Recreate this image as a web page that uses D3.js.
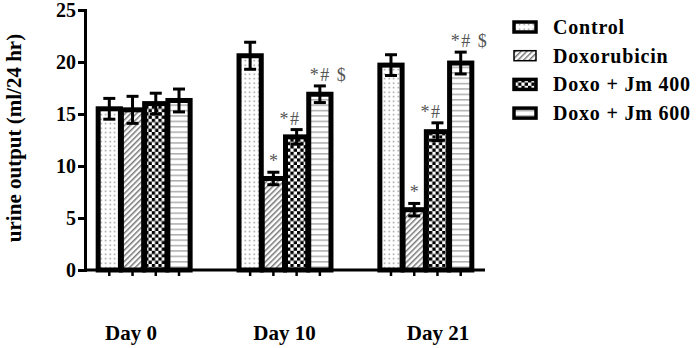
<!DOCTYPE html>
<html><head><meta charset="utf-8">
<script src="https://cdn.jsdelivr.net/npm/d3@7"></script>
<style>body{margin:0;background:#fff}svg{display:block}</style>
</head><body><svg id="c" width="699" height="348"></svg>
<script>
const groups = ["Day 0", "Day 10", "Day 21"];
const series = ["Control", "Doxorubicin", "Doxo + Jm 400", "Doxo + Jm 600"];
const control = [15.5, 20.6, 19.7];
const doxorubicin = [15.4, 8.8, 5.8];
const jm400 = [16.0, 12.8, 13.3];
const jm600 = [16.3, 16.9, 19.9];
const controlErr = [1.0, 1.3, 1.0];
const doxorubicinErr = [1.3, 0.6, 0.6];
const jm400Err = [1.0, 0.7, 0.85];
const jm600Err = [1.1, 0.8, 1.05];
const doxorubicinMarks = ["", "*", "*"];
const jm400Marks = ["", "*#", "*#"];
const jm600Marks = ["", "*# $", "*# $"];
const yTicks = [0, 5, 10, 15, 20, 25];

const values = [control, doxorubicin, jm400, jm600];
const errs = [controlErr, doxorubicinErr, jm400Err, jm600Err];
const marks = [[], doxorubicinMarks, jm400Marks, jm600Marks];
const data = [];
groups.forEach((g, gi) => series.forEach((s, si) => data.push({
  g, s, si, v: values[si][gi], e: errs[si][gi], m: (marks[si][gi] || "")
})));

const svg = d3.select("#c");
const serif = "'Liberation Serif','Times New Roman',serif";
const defs = svg.append("defs");
// patterns
const p0 = defs.append("pattern").attr("id", "pat0").attr("patternUnits", "userSpaceOnUse").attr("width", 4.5).attr("height", 4.5);
p0.append("rect").attr("width", 4.5).attr("height", 4.5).attr("fill", "#fff");
p0.append("rect").attr("x", 1.5).attr("y", 1.5).attr("width", 1.4).attr("height", 1.4).attr("fill", "#888");
const p1 = defs.append("pattern").attr("id", "pat1").attr("patternUnits", "userSpaceOnUse").attr("width", 4).attr("height", 4).attr("patternTransform", "rotate(45)");
p1.append("rect").attr("width", 4).attr("height", 4).attr("fill", "#fff");
p1.append("rect").attr("x", 0).attr("y", 0).attr("width", 1.5).attr("height", 4).attr("fill", "#777");
const p2 = defs.append("pattern").attr("id", "pat2").attr("patternUnits", "userSpaceOnUse").attr("width", 6.6).attr("height", 6.6);
p2.append("rect").attr("width", 6.6).attr("height", 6.6).attr("fill", "#fff");
p2.append("rect").attr("width", 3.3).attr("height", 3.3).attr("fill", "#000");
p2.append("rect").attr("x", 3.3).attr("y", 3.3).attr("width", 3.3).attr("height", 3.3).attr("fill", "#000");
const p3 = defs.append("pattern").attr("id", "pat3").attr("patternUnits", "userSpaceOnUse").attr("width", 6).attr("height", 5.4);
p3.append("rect").attr("width", 6).attr("height", 5.4).attr("fill", "#fff");
p3.append("rect").attr("y", 2).attr("width", 6).attr("height", 1.2).attr("fill", "#999");

const y = d3.scaleLinear().domain([0, 25]).range([270, 10]);
const x0 = d3.scaleBand().domain(groups).range([85, 485]).paddingInner(0.34).paddingOuter(0.09);
const x1 = d3.scaleBand().domain(series).range([0, x0.bandwidth()]);
const xLabel = d3.scalePoint().domain(groups).range([131, 438]);
const bw = x1.bandwidth();
const sw = 5;

// bars
const bars = svg.append("g");
bars.selectAll("rect").data(data).join("rect")
  .attr("x", d => x0(d.g) + x1(d.s) + 0.5)
  .attr("width", bw - 1)
  .attr("y", d => y(d.v))
  .attr("height", d => y(0) - y(d.v))
  .attr("fill", d => `url(#pat${d.si})`)
  .attr("stroke", "#000").attr("stroke-width", sw);

// error bars
const eb = svg.append("g").attr("stroke", "#000").attr("stroke-width", 3);
data.forEach(d => {
  const cx = x0(d.g) + x1(d.s) + bw / 2;
  eb.append("line").attr("x1", cx).attr("x2", cx).attr("y1", y(d.v + d.e)).attr("y2", y(d.v - d.e));
  eb.append("line").attr("x1", cx - 6).attr("x2", cx + 6).attr("y1", y(d.v + d.e)).attr("y2", y(d.v + d.e));
  eb.append("line").attr("x1", cx - 6).attr("x2", cx + 6).attr("y1", y(d.v - d.e)).attr("y2", y(d.v - d.e));
});

// annotations
svg.append("g").selectAll("text").data(data.filter(d => d.m)).join("text")
  .attr("x", d => {
    const cx = x0(d.g) + x1(d.s) + bw / 2;
    return d.m === "*" ? cx : d.m === "*#" ? cx + 4 : cx - 10;
  })
  .attr("text-anchor", d => d.m === "*" ? "middle" : d.m === "*#" ? "end" : "start")
  .attr("y", d => y(d.v + d.e) - 5)
  .attr("font-family", serif).attr("font-size", 18).attr("fill", "#555")
  .attr("letter-spacing", d => d.m === "*" ? 0 : 1.5)
  .text(d => d.m);

// y axis
const ya = svg.append("g").attr("transform", "translate(85,0)")
  .call(d3.axisLeft(y).tickValues(yTicks).tickSize(7).tickPadding(2));
ya.select(".domain").attr("stroke-width", 3);
ya.selectAll(".tick line").attr("stroke-width", 3);
ya.selectAll("text").attr("font-family", serif).attr("font-weight", "bold").attr("font-size", 20).attr("fill", "#000");

// x axis
const xa = svg.append("g").attr("transform", "translate(0,270)");
xa.append("line").attr("x1", 85).attr("x2", 485).attr("stroke", "#000").attr("stroke-width", 3);
data.forEach(d => {
  const cx = x0(d.g) + x1(d.s) + bw / 2;
  xa.append("line").attr("x1", cx).attr("x2", cx).attr("y1", 0).attr("y2", 6).attr("stroke", "#000").attr("stroke-width", 2.5);
});
xa.selectAll("text.g").data(groups).join("text").attr("class", "g")
  .attr("x", g => xLabel(g)).attr("y", 70)
  .attr("text-anchor", "middle")
  .attr("font-family", serif).attr("font-weight", "bold").attr("font-size", 21)
  .text(g => g);

// y label
svg.append("text").attr("transform", "translate(21,138) rotate(-90)")
  .attr("text-anchor", "middle")
  .attr("font-family", serif).attr("font-weight", "bold").attr("font-size", 21)
  .text("urine output (ml/24 hr)");

// legend
const lg = svg.append("g");
series.forEach((s, i) => {
  const yy = 27 + i * 28.7;
  lg.append("rect").attr("x", 514).attr("y", yy - 5).attr("width", 22).attr("height", 10)
    .attr("fill", `url(#pat${i})`).attr("stroke", "#000").attr("stroke-width", i === 1 ? 1.5 : 3.5);
  lg.append("text").attr("x", 553).attr("y", yy + 7)
    .attr("font-family", serif).attr("font-weight", "bold").attr("font-size", 20)
    .attr("letter-spacing", 0.8)
    .text(s);
});
</script></body></html>
